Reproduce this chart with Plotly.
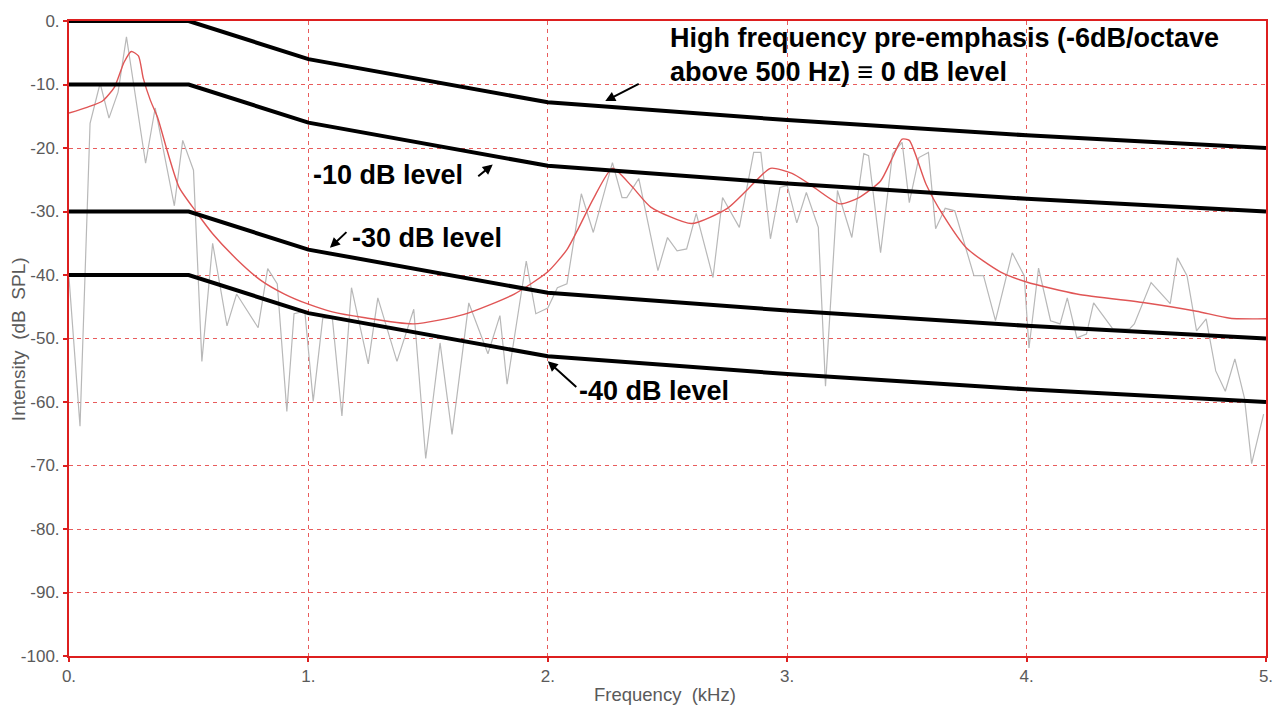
import plotly.graph_objects as go

# ---- data -------------------------------------------------------------
# Raw spectrum (grey, jagged)
spec_khz = [0.0, 0.046, 0.088, 0.13, 0.167, 0.205, 0.24, 0.32, 0.36, 0.44, 0.475,
            0.52, 0.555, 0.60, 0.66, 0.70, 0.79, 0.83, 0.87, 0.91, 0.94, 0.985,
            1.02, 1.06, 1.10, 1.14, 1.18, 1.25, 1.29, 1.37, 1.44, 1.49, 1.55,
            1.60, 1.67, 1.75, 1.80, 1.83, 1.91, 1.95, 2.00, 2.04, 2.08, 2.14,
            2.19, 2.27, 2.31, 2.33, 2.38, 2.46, 2.50, 2.54, 2.58, 2.62, 2.69,
            2.73, 2.80, 2.86, 2.89, 2.93, 2.97, 3.00, 3.04, 3.08, 3.13, 3.16,
            3.21, 3.27, 3.32, 3.34, 3.39, 3.44, 3.48, 3.51, 3.55, 3.59, 3.62,
            3.66, 3.70, 3.78, 3.82, 3.87, 3.94, 3.99, 4.01, 4.05, 4.10, 4.14,
            4.17, 4.21, 4.25, 4.28, 4.36, 4.43, 4.45, 4.52, 4.60, 4.63, 4.67,
            4.71, 4.75, 4.79, 4.83, 4.87, 4.91, 4.94, 4.99]
spec_db = [-40.4, -63.8, -16.1, -9.8, -15.3, -11.2, -2.5, -22.4, -13.7, -29.1, -18.8,
           -23.5, -53.6, -35.0, -48.0, -43.0, -48.3, -39.0, -41.4, -61.5, -46.1, -45.7,
           -59.9, -46.8, -46.8, -62.2, -42.0, -54.0, -43.6, -53.6, -45.4, -68.9, -50.7,
           -65.1, -44.4, -52.4, -46.4, -57.2, -37.8, -46.1, -45.2, -42.0, -41.4, -27.2,
           -33.3, -22.3, -27.8, -27.8, -24.8, -39.3, -34.1, -36.2, -35.9, -30.3, -40.4,
           -27.8, -32.5, -20.7, -20.7, -34.3, -26.2, -25.9, -31.8, -27.0, -32.5, -57.5,
           -26.7, -34.1, -20.9, -21.2, -36.5, -20.9, -19.1, -28.6, -21.5, -20.7, -32.7,
           -29.5, -29.9, -40.1, -40.1, -47.2, -36.5, -40.1, -51.5, -38.9, -47.2, -47.7,
           -43.6, -49.9, -49.3, -44.4, -48.5, -48.5, -47.7, -41.2, -44.5, -37.3, -40.1,
           -48.8, -46.9, -55.1, -58.3, -53.2, -59.4, -69.7, -61.9]

# Smoothed spectral envelope (red)
env_khz = [0.0, 0.075, 0.14, 0.19, 0.23, 0.26, 0.29, 0.31, 0.34, 0.37, 0.41, 0.46,
           0.53, 0.60, 0.70, 0.80, 0.90, 1.0, 1.1, 1.23, 1.44, 1.65, 1.86, 2.0, 2.08,
           2.13, 2.19, 2.27, 2.35, 2.43, 2.6, 2.75, 2.83, 2.93, 3.02, 3.09, 3.22,
           3.30, 3.39, 3.44, 3.48, 3.51, 3.58, 3.65, 3.75, 3.89, 4.0, 4.21, 4.5,
           4.71, 4.85, 5.0]
env_db = [-14.5, -13.6, -12.6, -10.4, -6.5, -4.8, -5.5, -9.0, -12.5, -15.2, -20.4, -26.2,
          -30.0, -33.5, -37.5, -40.8, -43.0, -44.6, -45.8, -46.7, -47.7, -46.2, -43.0, -39.5,
          -36.0, -32.5, -28.0, -23.2, -26.0, -29.3, -31.9, -29.5, -26.7, -23.2, -24.0, -25.6,
          -28.8, -27.8, -25.2, -21.5, -18.6, -18.8, -25.7, -30.5, -35.8, -39.5, -41.1, -43.0,
          -44.4, -45.7, -46.8, -46.9]

# Pre-emphasis reference lines: flat to 500 Hz, then -6 dB/octave
emph_khz = [0, 0.5, 1, 2, 3, 4, 5]
emph_shape_db = [0, 0, -6, -12.8, -15.6, -18, -20]
emph_levels = [0, -10, -30, -40]

x_tick_vals = [0, 1, 2, 3, 4, 5]
x_tick_text = ["0.", "1.", "2.", "3.", "4.", "5."]
y_tick_vals = [0, -10, -20, -30, -40, -50, -60, -70, -80, -90, -100]
y_tick_text = ["0.", "-10.", "-20.", "-30.", "-40.", "-50.", "-60.", "-70.", "-80.", "-90.", "-100."]

# ---- figure -----------------------------------------------------------
AXIS_RED = "#dd1f1f"
GRID_RED = "#e85c5c"
SANS = "Liberation Sans, Arial, sans-serif"
TICK_FONT = dict(family=SANS, size=17, color="#5a5a5a")

fig = go.Figure()

fig.add_trace(go.Scatter(x=spec_khz, y=spec_db, mode="lines",
                         line=dict(color="#b8b8b8", width=1.2), hoverinfo="skip"))
fig.add_trace(go.Scatter(x=env_khz, y=env_db, mode="lines",
                         line=dict(color="#e05555", width=1.4, shape="spline", smoothing=0.6),
                         hoverinfo="skip"))
for lvl in emph_levels:
    fig.add_trace(go.Scatter(x=emph_khz, y=[lvl + d for d in emph_shape_db], mode="lines",
                             line=dict(color="black", width=4), hoverinfo="skip"))

LABEL_FONT = dict(family=SANS, size=27, color="black")

notes = [
    (2.50, -2.7, "<b>High frequency pre-emphasis (-6dB/octave</b>"),
    (2.50, -8.1, "<b>above 500 Hz) \u2261 0 dB level</b>"),
    (1.01, -24.3, "<b>-10 dB level</b>"),
    (1.173, -34.1, "<b>-30 dB level</b>"),
    (2.12, -58.3, "<b>-40 dB level</b>"),
]
for x, y, t in notes:
    fig.add_annotation(x=x, y=y, text=t, showarrow=False, xanchor="left", yanchor="middle",
                       font=LABEL_FONT)

arrows = [
    (2.24, -12.6, 35, -18),
    (1.77, -22.6, -16, 13),
    (1.09, -35.7, 18, -17),
    (2.00, -53.6, 30, 27),
]
for x, y, ax, ay in arrows:
    fig.add_annotation(x=x, y=y, ax=ax, ay=ay, text="", showarrow=True,
                       arrowhead=2, arrowsize=1, arrowwidth=2, arrowcolor="black")

TITLE_FONT = dict(family=SANS, size=18.5, color="#5a5a5a")
fig.add_annotation(xref="paper", yref="paper", x=0.498, y=-0.0614,
                   xanchor="center", yanchor="middle",
                   text="Frequency\u00a0\u00a0(kHz)", showarrow=False, font=TITLE_FONT)
fig.add_annotation(xref="paper", yref="paper", x=-0.0426, y=0.499,
                   xanchor="center", yanchor="middle", textangle=-90,
                   text="Intensity\u00a0\u00a0(dB\u00a0\u00a0SPL)", showarrow=False,
                   font=dict(family=SANS, size=19, color="#5a5a5a"))

axis_common = dict(showline=True, linecolor=AXIS_RED, linewidth=2, mirror=True,
                   showgrid=True, gridcolor=GRID_RED, gridwidth=1, griddash="4px,4px",
                   ticks="outside", tickcolor=AXIS_RED, ticklen=4, tickwidth=2,
                   tickfont=TICK_FONT, zeroline=False)

fig.update_xaxes(range=[0, 5], tickvals=x_tick_vals, ticktext=x_tick_text, **axis_common)
fig.update_yaxes(range=[-100, 0], tickvals=y_tick_vals, ticktext=y_tick_text, **axis_common)

fig.update_layout(width=1277, height=714, showlegend=False,
                  margin=dict(l=69, r=11, t=21, b=58, autoexpand=False),
                  paper_bgcolor="white", plot_bgcolor="white")

fig.write_html("out.html")
